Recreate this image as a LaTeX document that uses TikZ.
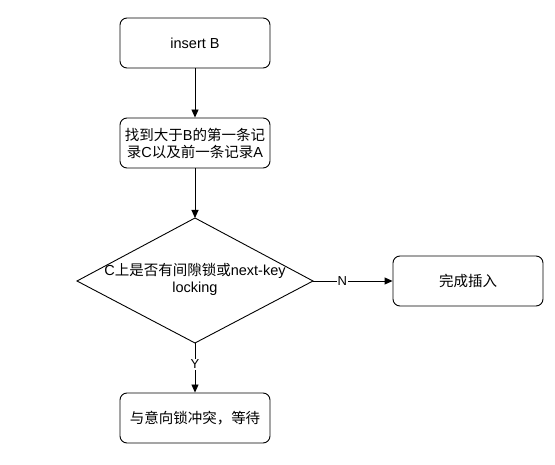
\documentclass[tikz,border=0pt]{standalone}
\usepackage{fontspec}
\setmainfont{Liberation Sans}
\newfontfamily\cjk{Noto Sans CJK SC}
\usetikzlibrary{arrows.meta,positioning}
\begin{document}
\begin{tikzpicture}[x=1pt,y=-1pt,
  box/.style={draw, line width=0.9pt, rounded corners=7pt, minimum width=150pt, minimum height=50pt, align=center, inner sep=2pt, font=\fontsize{14.5}{17}\selectfont},
  flow/.style={draw, line width=0.9pt, -{Triangle[length=8pt,width=7pt]}},
  lbl/.style={fill=white, inner sep=1pt, font=\fontsize{13}{15}\selectfont}]
\useasboundingbox (0,0) rectangle (555,465);
\node[box] (a) at (195,43) {insert B};
\node[box] (b) at (195,143) {{\cjk 找到大于}B{\cjk 的第一条记}\\{\cjk 录}C{\cjk 以及前一条记录}A};
\coordinate (dt) at (195,218);
\coordinate (dl) at (77,281);
\coordinate (dr) at (313,281);
\coordinate (db) at (195,343);
\draw[line width=0.9pt] (dt) -- (dr) -- (db) -- (dl) -- cycle;
\node[align=center, font=\fontsize{14.5}{17}\selectfont, inner sep=0pt] (dtext) at (195,279) {C{\cjk 上是否有间隙锁或}next-key\\locking};
\node[box] (c) at (468,281) {{\cjk 完成插入}};
\node[box] (d) at (195,418) {{\cjk 与意向锁冲突，等待}};
\draw[flow] (a) -- (b);
\draw[flow] (b) -- (dt);
\draw[flow] (dr) -- node[lbl, pos=0.37] (n) {N} (c);
\draw[flow] (db) -- node[lbl, pos=0.43] (y) {Y} (d);
\end{tikzpicture}
\end{document}
